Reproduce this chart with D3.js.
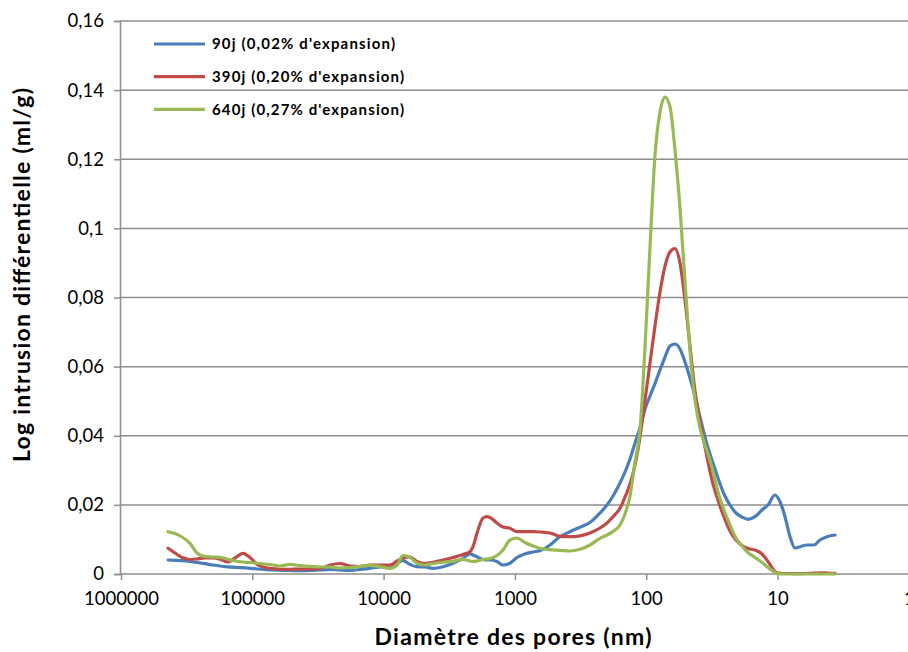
<!DOCTYPE html>
<html><head><meta charset="utf-8">
<script src="https://cdn.jsdelivr.net/npm/d3@7"></script>
<style>body{margin:0;background:#fff}svg{display:block}</style>
</head><body><svg id="c" width="908" height="652"></svg>
<script>
const diameters = [438500,387900,343000,298200,263800,229200,199200,176200,153100,135400,117700,104100,90500,80030,69550,61520,51630,43320,36350,30510,25600,21480,18030,15120,12690,10650,8940,7905,7115,6294,5567,4838,4205,3528,2960,2485,2198,2085,1944,1750,1631,1548,1369,1232,1090,963.8,837.7,728.0,632.7,540.3,453.4,380.5,319.4,267.9,224.8,198.9,179.0,158.3,145.0,132.8,121.7,111.5,102.1,93.54,85.70,78.51,71.92,65.89,60.36,55.29,50.65,46.40,42.50,38.94,35.04,31.54,28.40,25.56,23.00,20.71,18.64,16.78,14.84,13.13,11.81,10.45,9.572,8.768,8.030,7.356,6.739,5.961,5.272,4.747,4.198,3.648];
const v90j = [.00405,.00396,.00385,.00362,.00333,.00298,.00260,.00231,.00208,.00194,.00182,.00165,.00145,.00130,.00116,.00110,.00101,.00095,.00101,.00116,.00130,.00116,.00107,.00130,.00165,.00203,.00246,.00318,.00385,.00275,.00211,.00203,.00165,.00211,.00310,.00454,.00584,.00550,.00501,.00420,.00405,.00405,.00362,.00260,.00310,.00477,.00579,.00637,.00686,.00839,.01079,.01224,.01351,.01490,.01765,.01996,.02257,.02633,.02951,.03327,.03790,.04224,.04774,.05150,.05512,.05902,.06278,.06597,.06655,.06510,.06134,.05671,.05150,.04542,.03848,.03298,.02778,.02315,.01996,.01765,.01649,.01583,.01658,.01852,.01996,.02286,.02092,.01658,.01079,.00752,.00790,.00839,.00839,.00984,.01079,.01128];
const v390j = [.00744,.00608,.00477,.00420,.00434,.00469,.00463,.00425,.00347,.00463,.00599,.00477,.00260,.00188,.00159,.00136,.00136,.00145,.00139,.00159,.00260,.00304,.00231,.00217,.00260,.00260,.00260,.00376,.00463,.00492,.00362,.00304,.00339,.00405,.00477,.00564,.00645,.00790,.01178,.01620,.01658,.01635,.01476,.01360,.01322,.01224,.01224,.01224,.01215,.01186,.01091,.01079,.01105,.01186,.01331,.01476,.01658,.01901,.02228,.02604,.03154,.03964,.05034,.06105,.07175,.08159,.08911,.09316,.09418,.08998,.07928,.06597,.05295,.04427,.03530,.02720,.02141,.01649,.01244,.00984,.00825,.00738,.00694,.00579,.00362,.00072,.00020,.00014,.00014,.00012,.00012,.00014,.00023,.00035,.00029,.00017];
const v640j = [.01224,.01172,.01071,.00888,.00608,.00506,.00492,.00483,.00425,.00376,.00347,.00333,.00312,.00289,.00260,.00231,.00281,.00240,.00223,.00203,.00203,.00174,.00188,.00223,.00252,.00211,.00165,.00260,.00535,.00483,.00310,.00260,.00304,.00339,.00367,.00425,.00376,.00362,.00376,.00420,.00434,.00448,.00535,.00694,.00984,.01042,.00911,.00810,.00738,.00703,.00686,.00665,.00715,.00839,.01033,.01128,.01230,.01418,.01736,.02257,.03240,.04166,.06568,.09461,.12123,.13367,.13801,.13521,.12268,.10590,.08448,.06481,.05034,.04224,.03646,.03096,.02373,.01852,.01418,.01042,.00810,.00622,.00477,.00333,.00188,.00043,.00006,0,0,0,0,0,0,0,0,0];
const seriesNames = ["90j (0,02% d'expansion)","390j (0,20% d'expansion)","640j (0,27% d'expansion)"];
const seriesColors = ["#4a7ebb","#be4b48","#98b954"];
const xTicks = [1000000,100000,10000,1000,100,10,1];
const yTicks = [0,0.02,0.04,0.06,0.08,0.1,0.12,0.14,0.16];
const xTitle = "Diamètre des pores (nm)";
const yTitle = "Log intrusion différentielle (ml/g)";

const svg = d3.select("#c");
const L = 121, R = 908.8, T = 21, B = 574;
const x = d3.scaleLog().domain([1000000,1]).range([L,R]);
const y = d3.scaleLinear().domain([0,0.16]).range([B,T]);
const font = "Lato, 'Open Sans', sans-serif";
const grid = "#8e8e8e";

// gridlines
svg.append("g").selectAll("line").data(yTicks.slice(1)).join("line")
  .attr("x1",L-1).attr("x2",908).attr("y1",d=>y(d)).attr("y2",d=>y(d))
  .attr("stroke",grid).attr("stroke-width",1.5);

// y axis
const yAxis = svg.append("g").attr("transform",`translate(${L-1},0)`)
  .call(d3.axisLeft(y).tickValues(yTicks).tickSize(6).tickPadding(10)
    .tickFormat(d=>d3.format(".2~f")(d).replace(".",",")));
yAxis.select(".domain").attr("stroke",grid).attr("stroke-width",1.5);
yAxis.selectAll(".tick line").attr("stroke",grid).attr("stroke-width",1.5);
yAxis.selectAll("text").attr("font-family",font).attr("font-size",18.5).attr("fill","#000");

// x axis
const xAxis = svg.append("g").attr("transform",`translate(0,${B})`)
  .call(d3.axisBottom(x).tickValues(xTicks).tickSize(6).tickPadding(12).tickFormat(d3.format("d")));
xAxis.select(".domain").attr("stroke",grid).attr("stroke-width",1.5).attr("d",`M${L-1},0H908`);
xAxis.selectAll(".tick line").attr("stroke",grid).attr("stroke-width",1.5);
xAxis.selectAll("text").attr("font-family",font).attr("font-size",18.5).attr("fill","#000");

// lines
const allSeries = [v90j, v390j, v640j];
const line = d3.line().x((d,i)=>x(diameters[i])).y(d=>y(d)).curve(d3.curveMonotoneX);
allSeries.forEach((s,k)=>{
  svg.append("path").datum(s).attr("d",line).attr("fill","none")
    .attr("stroke",seriesColors[k]).attr("stroke-width",3.2).attr("stroke-linejoin","round").attr("stroke-linecap","round");
});

// legend
const legendWidths = [183,192,192];
const lg = svg.append("g");
seriesNames.forEach((n,k)=>{
  const yy = 44 + k*32.7;
  lg.append("line").attr("x1",154).attr("x2",205).attr("y1",yy).attr("y2",yy)
    .attr("stroke",seriesColors[k]).attr("stroke-width",3.2);
  lg.append("text").attr("x",212).attr("y",yy).attr("dy","0.36em")
    .attr("font-family",font).attr("font-weight","bold").attr("font-size",15)
    .attr("textLength",legendWidths[k]).attr("lengthAdjust","spacing").text(n);
});

// titles
svg.append("text").attr("x",513).attr("y",645).attr("text-anchor","middle")
  .attr("font-family",font).attr("font-weight","bold").attr("font-size",23)
  .attr("textLength",277).attr("lengthAdjust","spacing").text(xTitle);
svg.append("text").attr("transform","translate(30,275) rotate(-90)").attr("text-anchor","middle")
  .attr("font-family",font).attr("font-weight","bold").attr("font-size",23)
  .attr("textLength",374).attr("lengthAdjust","spacing").text(yTitle);
</script></body></html>
